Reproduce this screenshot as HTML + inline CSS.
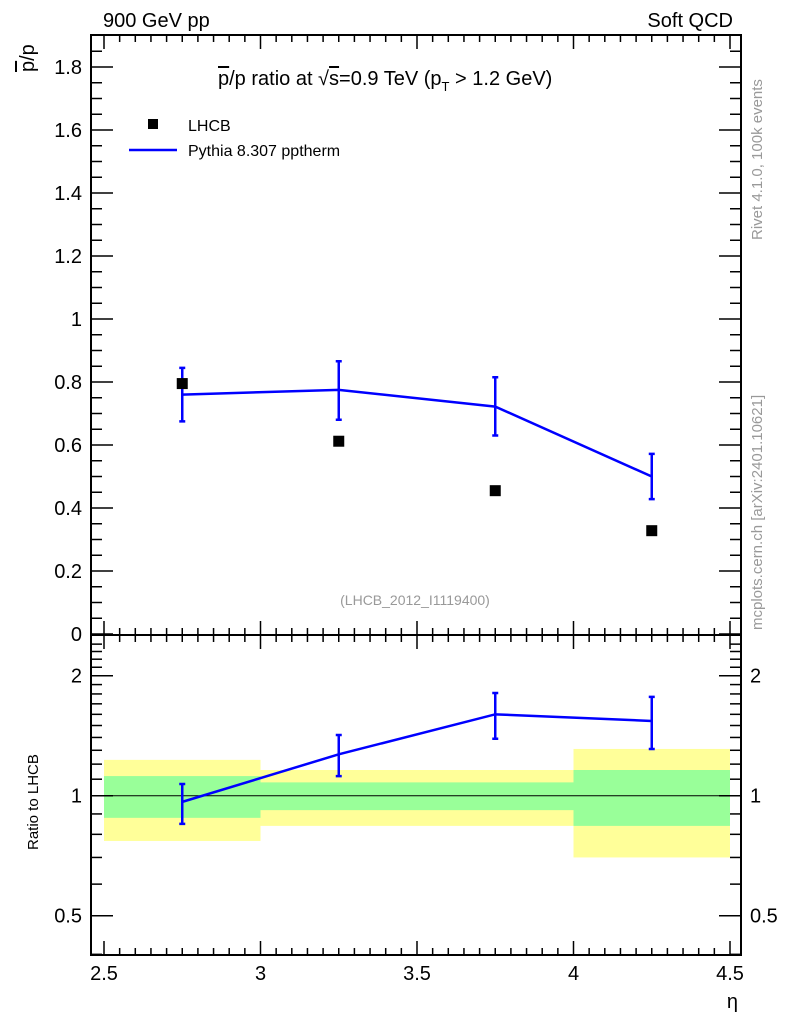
<!DOCTYPE html>
<html><head><meta charset="utf-8"><style>
body{margin:0;background:#fff}
svg text{font-family:"Liberation Sans",sans-serif}
</style></head><body>
<svg id="chart" width="786" height="1024" xmlns="http://www.w3.org/2000/svg"></svg>
<script>
const etaCenters=[2.75,3.25,3.75,4.25];
const binEdges=[2.5,3.0,3.5,4.0,4.5];
const lhcbVals=[0.795,0.612,0.455,0.328];
const mcVals=[0.760,0.775,0.722,0.500];
const mcErrLo=[0.675,0.680,0.630,0.428];
const mcErrHi=[0.845,0.866,0.815,0.572];
const ratioVals=[0.965,1.27,1.60,1.54];
const ratioErrLo=[0.85,1.12,1.39,1.31];
const ratioErrHi=[1.07,1.42,1.81,1.77];
const bandYelLo=[0.77,0.84,0.84,0.70];
const bandYelHi=[1.23,1.16,1.16,1.31];
const bandGrnLo=[0.88,0.92,0.92,0.84];
const bandGrnHi=[1.12,1.08,1.08,1.16];
const mainYTicks=[0,0.2,0.4,0.6,0.8,1,1.2,1.4,1.6,1.8];
const mainYLabels=["0","0.2","0.4","0.6","0.8","1","1.2","1.4","1.6","1.8"];
const xTicks=[2.5,3,3.5,4,4.5];
const xLabels=["2.5","3","3.5","4","4.5"];
const ratioTicks=[0.5,1,2];
const ratioLabels=["0.5","1","2"];

const NS="http://www.w3.org/2000/svg";
const svg=document.getElementById('chart');
const L=91,R=741,T=35,M=635,B=955;
const X=v=>104+(v-2.5)*313;
const Y=v=>634-v*315;
const YR=v=>795.7-Math.log2(v)*120;
function mk(tag,attrs,parent){const e=document.createElementNS(NS,tag);for(const k in attrs)e.setAttribute(k,attrs[k]);(parent||svg).appendChild(e);return e;}
function txt(s,attrs){const e=mk('text',attrs);e.textContent=s;return e;}

// ratio bands
for(let i=0;i<4;i++){
  const y=mk('rect',{x:X(binEdges[i]),y:YR(bandYelHi[i]),width:X(binEdges[i+1])-X(binEdges[i]),height:YR(bandYelLo[i])-YR(bandYelHi[i]),fill:'#ffff99'});
  
  
  const g=mk('rect',{x:X(binEdges[i]),y:YR(bandGrnHi[i]),width:X(binEdges[i+1])-X(binEdges[i]),height:YR(bandGrnLo[i])-YR(bandGrnHi[i]),fill:'#99ff99'});
  
  
}
const one=mk('line',{x1:L,x2:R,y1:YR(1),y2:YR(1),stroke:'#000','stroke-width':1});



// frames
const f1=mk('rect',{x:L,y:T,width:R-L,height:M-T,fill:'none',stroke:'#000','stroke-width':2});


const f2=mk('rect',{x:L,y:M,width:R-L,height:B-M,fill:'none',stroke:'#000','stroke-width':2});



// x ticks
for(let v=2.5;v<=4.501;v+=0.05){
  const major=Math.abs(v*2-Math.round(v*2))<1e-6;
  const len=major?14:7;
  const x=X(v);
  for(const [yb,ye] of [[M,T],[B,M]]){
    mk('line',{x1:x,x2:x,y1:yb,y2:yb-len,stroke:'#000','stroke-width':1.5});
    mk('line',{x1:x,x2:x,y1:ye,y2:ye+len,stroke:'#000','stroke-width':1.5});
  }
}
xTicks.forEach((v,i)=>{const t=txt(xLabels[i],{x:X(v),y:980,'font-size':20,'text-anchor':'middle'});

});
const xt=txt('η',{x:738,y:1008,'font-size':20,'text-anchor':'end'});



// main y ticks
for(let v=0;v<=1.9;v+=0.05){
  const major=Math.abs(v*5-Math.round(v*5))<1e-6;
  const len=major?22:11;const y=Y(v);
  if(y<T)continue;
  mk('line',{x1:L,x2:L+len,y1:y,y2:y,stroke:'#000','stroke-width':1.5});
  mk('line',{x1:R,x2:R-len,y1:y,y2:y,stroke:'#000','stroke-width':1.5});
}
mainYTicks.forEach((v,i)=>{const t=txt(mainYLabels[i],{x:82,y:Y(v)+7,'font-size':20,'text-anchor':'end'});

});

// ratio y ticks (log)
const minor=[0.4,0.6,0.7,0.8,0.9,1.1,1.2,1.3,1.4,1.5,1.6,1.7,1.8,1.9,2.1,2.2,2.3,2.4];
minor.forEach(v=>{const y=YR(v);mk('line',{x1:L,x2:L+11,y1:y,y2:y,stroke:'#000','stroke-width':1.5});mk('line',{x1:R,x2:R-11,y1:y,y2:y,stroke:'#000','stroke-width':1.5});});
ratioTicks.forEach((v,i)=>{const y=YR(v);
mk('line',{x1:L,x2:L+22,y1:y,y2:y,stroke:'#000','stroke-width':1.5});mk('line',{x1:R,x2:R-22,y1:y,y2:y,stroke:'#000','stroke-width':1.5});
const a=txt(ratioLabels[i],{x:82,y:y+7,'font-size':20,'text-anchor':'end'});


const b=txt(ratioLabels[i],{x:750,y:y+7,'font-size':20});

});

// MC line main
const mcPts=etaCenters.map((e,i)=>X(e)+','+Y(mcVals[i])).join(' ');
const ml=mk('polyline',{points:mcPts,fill:'none',stroke:'#0000ff','stroke-width':2.5});


etaCenters.forEach((e,i)=>{const x=X(e);
const eb=mk('path',{d:`M${x},${Y(mcErrLo[i])}V${Y(mcErrHi[i])}M${x-3},${Y(mcErrLo[i])}h6M${x-3},${Y(mcErrHi[i])}h6`,stroke:'#0000ff','stroke-width':2.5,fill:'none'});


const d=mk('rect',{x:x-5.5,y:Y(lhcbVals[i])-5.5,width:11,height:11,fill:'#000'});

});

// ratio line
const rPts=etaCenters.map((e,i)=>X(e)+','+YR(ratioVals[i])).join(' ');
const rl=mk('polyline',{points:rPts,fill:'none',stroke:'#0000ff','stroke-width':2.5});


etaCenters.forEach((e,i)=>{const x=X(e);
const eb=mk('path',{d:`M${x},${YR(ratioErrLo[i])}V${YR(ratioErrHi[i])}M${x-3},${YR(ratioErrLo[i])}h6M${x-3},${YR(ratioErrHi[i])}h6`,stroke:'#0000ff','stroke-width':2.5,fill:'none'});

});

// texts
function label(s,a,name){const t=txt(s,a);return t;}
label('900 GeV pp',{x:103,y:27,'font-size':20},'header-left');
label('Soft QCD',{x:733,y:27,'font-size':20,'text-anchor':'end'},'header-right');
label('(LHCB_2012_I1119400)',{x:415,y:605,'font-size':14,fill:'#999','text-anchor':'middle'},'analysis-id');
const tt=txt('',{x:218,y:85,'font-size':20});


tt.innerHTML='<tspan text-decoration="overline">p</tspan>/p ratio at √<tspan text-decoration="overline">s</tspan>=0.9 TeV (p<tspan font-size="13" dy="6">T</tspan><tspan dy="-6"> &gt; 1.2 GeV)</tspan>';
const yt=txt('',{transform:'translate(34,72) rotate(-90)','font-size':20});


yt.innerHTML='<tspan text-decoration="overline">p</tspan>/p';
label('Ratio to LHCB',{transform:'translate(38,850) rotate(-90)','font-size':15},'ratio-axis-title');
label('Rivet 4.1.0,  100k events',{transform:'translate(762,240) rotate(-90)','font-size':15,fill:'#999'},'rivet-label');
label('mcplots.cern.ch [arXiv:2401.10621]',{transform:'translate(762,630) rotate(-90)','font-size':15,fill:'#999'},'mcplots-label');
// legend
const lm=mk('rect',{x:148,y:119,width:10,height:10,fill:'#000'});


label('LHCB',{x:188,y:131,'font-size':16},'legend-lhcb');
const ll=mk('line',{x1:129,x2:177,y1:150,y2:150,stroke:'#0000ff','stroke-width':2.5});


label('Pythia 8.307 pptherm',{x:188,y:156,'font-size':16},'legend-pythia');
</script>
</body></html>
